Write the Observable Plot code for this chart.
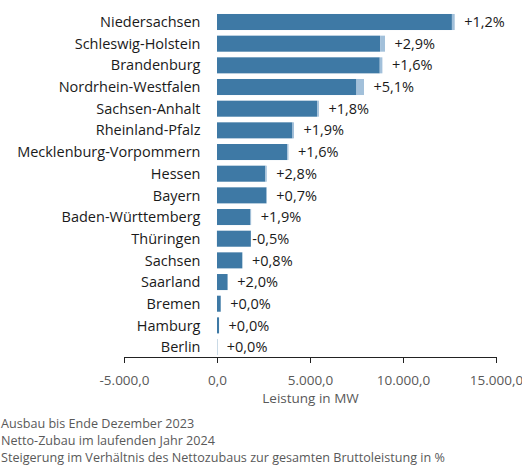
<!DOCTYPE html>
<html>
<head>
<meta charset="utf-8">
<script src="https://cdn.jsdelivr.net/npm/d3@7"></script>
<script src="https://cdn.jsdelivr.net/npm/@observablehq/plot@0.6"></script>
<style>
  body { margin: 0; background: #fff; font-family: "Open Sans", sans-serif; }
  #legend { font-size: 12.6px; color: #595959; line-height: 16.8px; padding-top: 1px; padding-left: 1px; }
</style>
</head>
<body>
<div id="chart"></div>
<div id="legend"></div>
<script>
const states = ["Niedersachsen", "Schleswig-Holstein", "Brandenburg", "Nordrhein-Westfalen", "Sachsen-Anhalt", "Rheinland-Pfalz", "Mecklenburg-Vorpommern", "Hessen", "Bayern", "Baden-Württemberg", "Thüringen", "Sachsen", "Saarland", "Bremen", "Hamburg", "Berlin"];
const ausbau2023 = [12630, 8770, 8750, 7500, 5380, 4060, 3780, 2600, 2660, 1800, 1820, 1360, 570, 200, 110, 15];
const zubau2024 = [150, 262, 142, 403, 99, 79, 62, 75, 19, 35, -9, 11, 12, 0, 0, 0];
const steigerung = [1.2, 2.9, 1.6, 5.1, 1.8, 1.9, 1.6, 2.8, 0.7, 1.9, -0.5, 0.8, 2.0, 0.0, 0.0, 0.0];
const xTicks = [-5000, 0, 5000, 10000, 15000];
const legendLines = ["Ausbau bis Ende Dezember 2023", "Netto-Zubau im laufenden Jahr 2024", "Steigerung im Verhältnis des Nettozubaus zur gesamten Bruttoleistung in %"];
const axisTitle = "Leistung in MW";

const data = states.map((s, i) => ({name: s, dark: ausbau2023[i], net: zubau2024[i], pct: steigerung[i]}));
const locale = d3.formatLocale({decimal: ",", thousands: ".", grouping: [3], currency: ["", "€"], minus: "-"});
const fmt = locale.format(",.1f");
const pctFmt = v => (v < 0 ? "-" : "+") + Math.abs(v).toFixed(1).replace(".", ",") + "%";

const dark = "#3e79a5", light = "#a2c0da", gray = "#595959";
const pos = data.filter(d => d.pct >= 0), neg = data.filter(d => d.pct < 0);

const chart = Plot.plot({
  width: 522,
  height: 415,
  marginLeft: 124,
  marginRight: 26,
  marginTop: 8,
  marginBottom: 58,
  style: {fontFamily: "Open Sans", fontSize: "14px", background: "#fff"},
  x: {domain: [-5000, 15000]},
  y: {domain: states, range: [8.35, 360.7], padding: 0.26, round: false, axis: null},
  marks: [
    Plot.barX(data, {y: "name", x1: 0, x2: "dark", fill: dark}),
    Plot.barX(data, {y: "name", x1: d => d.net >= 0 ? d.dark : 0, x2: d => d.net >= 0 ? d.dark + d.net : d.net, fill: light}),
    Plot.text(data, {y: "name", x: 0, text: "name", textAnchor: "end", dx: -17, fontSize: 14.5, fill: "#1a1a1a"}),
    Plot.text(pos, {y: "name", x: d => d.dark + d.net, text: d => pctFmt(d.pct), textAnchor: "start", dx: 9, fontSize: 14.5, fill: "#1a1a1a"}),
    Plot.text(neg, {y: "name", x: "dark", text: d => pctFmt(d.pct), textAnchor: "start", dx: 1, fontSize: 14.5, fill: "#1a1a1a"}),
    Plot.frame({anchor: "bottom", stroke: "#222"}),
    Plot.axisX({ticks: xTicks, tickFormat: fmt, tickSize: 6, tickPadding: 12, stroke: "#222", color: gray, fontSize: 13.5, label: axisTitle, labelAnchor: "center", labelArrow: "none", labelOffset: 45})
  ]
});
document.getElementById("chart").appendChild(chart);
const lg = document.getElementById("legend");
legendLines.forEach(t => { const d = document.createElement("div"); d.textContent = t; lg.appendChild(d); });
</script>
</body>
</html>
